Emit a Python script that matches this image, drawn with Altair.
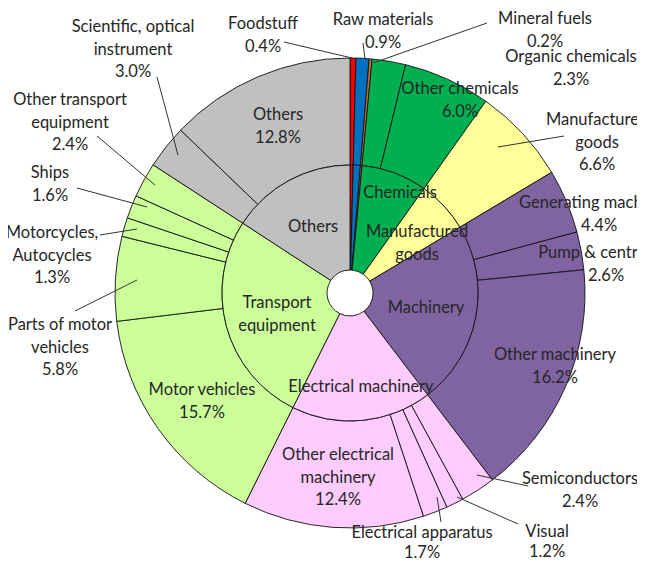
import altair as alt
import pandas as pd

# ---- data ----
groups = ["Foodstuff", "Raw materials", "Mineral fuels", "Chemicals",
          "Manufactured goods", "Machinery", "Electrical machinery",
          "Transport equipment", "Others"]
group_colors = ["#ff0000", "#0070c0", "#c8702a", "#00b050", "#ffff99",
                "#8064a2", "#ffccff", "#ccff99", "#c0c0c0"]

items = ["Foodstuff", "Raw materials", "Mineral fuels",
         "Organic chemicals", "Other chemicals",
         "Manufactured goods",
         "Generating machinery", "Pump & centrifuge", "Other machinery",
         "Semiconductors", "Visual", "Electrical apparatus", "Other electrical machinery",
         "Motor vehicles", "Parts of motor vehicles", "Motorcycles, Autocycles", "Ships",
         "Other transport equipment",
         "Scientific, optical instrument", "Others"]
item_values = [0.4, 0.9, 0.2,
               2.3, 6.0,
               6.6,
               4.4, 2.6, 16.2,
               2.4, 1.2, 1.7, 12.4,
               15.7, 5.8, 1.3, 1.6, 2.4,
               3.0, 12.8]
item_groups = ["Foodstuff", "Raw materials", "Mineral fuels",
               "Chemicals", "Chemicals",
               "Manufactured goods",
               "Machinery", "Machinery", "Machinery",
               "Electrical machinery", "Electrical machinery", "Electrical machinery",
               "Electrical machinery",
               "Transport equipment", "Transport equipment", "Transport equipment",
               "Transport equipment", "Transport equipment",
               "Others", "Others"]

# label texts (display line breaks)
item_label_text = ["Foodstuff\n0.4%", "Raw materials\n0.9%", "Mineral fuels\n0.2%",
                   "Organic chemicals\n2.3%", "Other chemicals\n6.0%",
                   "Manufactured\ngoods\n6.6%",
                   "Generating machinery\n4.4%", "Pump & centrifuge\n2.6%",
                   "Other machinery\n16.2%",
                   "Semiconductors\n2.4%", "Visual\n1.2%", "Electrical apparatus\n1.7%",
                   "Other electrical\nmachinery\n12.4%",
                   "Motor vehicles\n15.7%", "Parts of motor\nvehicles\n5.8%",
                   "Motorcycles,\nAutocycles\n1.3%", "Ships\n1.6%",
                   "Other transport\nequipment\n2.4%",
                   "Scientific, optical\ninstrument\n3.0%", "Others\n12.8%"]
group_label_text = {"Chemicals": "Chemicals", "Manufactured goods": "Manufactured\ngoods",
                    "Machinery": "Machinery", "Electrical machinery": "Electrical machinery",
                    "Transport equipment": "Transport\nequipment", "Others": "Others"}

# ---- layout (annotation positions of first text line, view pixels) ----
CX, CY = 342, 285
R_OUT, R_MID, R_HOLE = 235, 128, 23

item_label_pos = [(255, 16), (375, 12), (537, 11),
                  (563, 49), (452, 81),
                  (589, 112),
                  (591, 195), (598, 245), (547, 347),
                  (572, 471), (539, 524), (414, 525),
                  (330, 447),
                  (194, 382), (52, 317), (44, 225), (42, 165), (62, 92),
                  (125, 19), (270, 107)]
bottom_items = {"Visual", "Electrical apparatus"}   # tighter line spacing at page foot
group_label_pos = {"Chemicals": (392, 185), "Manufactured goods": (409, 224),
                   "Machinery": (418, 300), "Electrical machinery": (353, 379),
                   "Transport equipment": (269, 295), "Others": (305, 219)}
leaders = [((276, 34), (344, 50)), ((355, 35), (357, 51)), ((479, 15), (365, 55)),
           ((556, 128), (490, 139)),
           ((520, 478), (469, 467)), ((510, 516), (449, 489)), ((433, 514), (429, 489)),
           ((149, 69), (170, 147)), ((89, 128), (147, 177)), ((69, 180), (139, 199)),
           ((92, 227), (129, 221)), ((67, 303), (129, 272))]

# ---- tables ----
gcolor = dict(zip(groups, group_colors))
outer = pd.DataFrame({"idx": range(len(items)), "name": items, "value": item_values,
                      "color": [gcolor[g] for g in item_groups]})
inner = (outer.assign(group=item_groups).groupby("group", sort=False)["value"].sum()
         .reindex(groups).reset_index())
inner["idx"] = range(len(inner))
inner["color"] = group_colors

labels = pd.DataFrame({
    "text": item_label_text + [group_label_text[g] for g in group_label_pos],
    "x": [p[0] for p in item_label_pos] + [p[0] for p in group_label_pos.values()],
    "y": [p[1] for p in item_label_pos] + [p[1] for p in group_label_pos.values()],
    "bottom": [n in bottom_items for n in items] + [False] * len(group_label_pos),
})
lines = pd.DataFrame({"x": [a[0] for a, b in leaders], "y": [a[1] for a, b in leaders],
                      "x2": [b[0] for a, b in leaders], "y2": [b[1] for a, b in leaders]})

theta_scale = alt.Scale(domain=[0, sum(item_values)])

outer_ring = alt.Chart(outer).mark_arc(
    radius=R_OUT, radius2=R_MID, stroke="#111111", strokeWidth=0.9
).encode(
    theta=alt.Theta("value:Q", stack=True, scale=theta_scale),
    order=alt.Order("idx:Q", sort="ascending"),
    color=alt.Color("color:N", scale=None),
    x=alt.value(CX), y=alt.value(CY),
)

inner_ring = alt.Chart(inner).mark_arc(
    radius=R_MID, radius2=R_HOLE, stroke="#111111", strokeWidth=0.9
).encode(
    theta=alt.Theta("value:Q", stack=True, scale=theta_scale),
    order=alt.Order("idx:Q", sort="ascending"),
    color=alt.Color("color:N", scale=None),
    x=alt.value(CX), y=alt.value(CY),
)

leader_lines = alt.Chart(lines).mark_rule(color="#333333", strokeWidth=1).encode(
    x=alt.X("x:Q", scale=None), y=alt.Y("y:Q", scale=None),
    x2="x2:Q", y2="y2:Q",
)

text_style = dict(lineBreak="\n", font="Lato", fontSize=16.5, color="#262626",
                  align="center", baseline="middle")
texts_main = alt.Chart(labels[~labels["bottom"]]).mark_text(
    lineHeight=22.5, **text_style
).encode(
    x=alt.X("x:Q", scale=None), y=alt.Y("y:Q", scale=None), text="text:N",
)
texts_bottom = alt.Chart(labels[labels["bottom"]]).mark_text(
    lineHeight=20, **text_style
).encode(
    x=alt.X("x:Q", scale=None), y=alt.Y("y:Q", scale=None), text="text:N",
)

chart = alt.layer(outer_ring, inner_ring, leader_lines, texts_main, texts_bottom).properties(
    width=629, height=551, padding=0, autosize=alt.AutoSizeParams(type="none")
).configure_view(stroke=None)

chart.save("out.html", embed_options={"renderer": "svg", "actions": False})
